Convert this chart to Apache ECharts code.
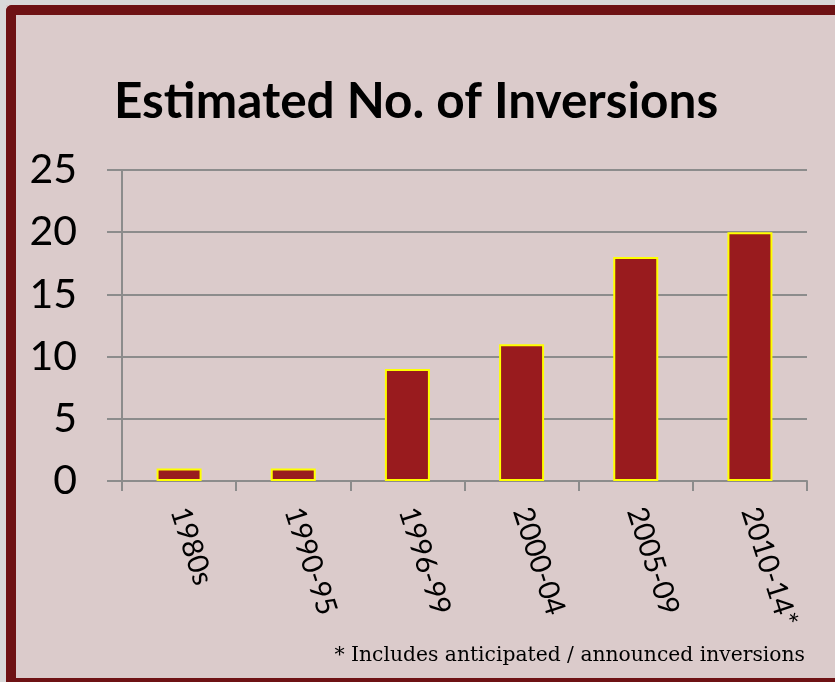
<!DOCTYPE html>
<html>
<head>
<meta charset="utf-8">
<script src="https://cdn.jsdelivr.net/npm/echarts@6/dist/echarts.min.js"></script>
<style>
html,body{margin:0;padding:0;background:#d9d9d9;}
#chart{width:835px;height:682px;}
</style>
</head>
<body>
<div id="chart"></div>
<script>
const categories = ['1980s', '1990-95', '1996-99', '2000-04', '2005-09', '2010-14*'];
const inversions = [1, 1, 9, 11, 18, 20];
const yTicks = [0, 5, 10, 15, 20, 25];
const titleText = 'Estimated No. of Inversions';
const footnote = '* Includes anticipated / announced inversions';

const chart = echarts.init(document.getElementById('chart'));
chart.setOption({
  backgroundColor: '#dbcbcb',
  animation: false,
  title: {
    text: titleText,
    left: 109,
    top: 72,
    textStyle: { fontFamily: 'Lato', fontWeight: 'bold', fontSize: 49.5, color: '#000' }
  },
  graphic: [
    { type: 'rect', shape: { x: 0, y: 0, width: 835, height: 5 }, style: { fill: '#d9d9d9' }, silent: true },
    { type: 'rect', shape: { x: 0, y: 0, width: 6, height: 682 }, style: { fill: '#d9d9d9' }, silent: true },
    { type: 'rect', shape: { x: 6, y: 5, width: 829, height: 10, r: [6, 0, 0, 0] }, style: { fill: '#6e1214' }, silent: true },
    { type: 'rect', shape: { x: 6, y: 5, width: 10, height: 677, r: [6, 0, 0, 0] }, style: { fill: '#6e1214' }, silent: true },
    { type: 'rect', shape: { x: 6, y: 678, width: 829, height: 4 }, style: { fill: '#6e1214' }, silent: true },
    { type: 'text', right: 30, top: 646,
      style: { text: footnote, font: '20.3px "DejaVu Serif"', fill: '#000' } }
  ],
  grid: { left: 122, right: 28, top: 170, bottom: 201, containLabel: false },
  xAxis: {
    type: 'category',
    data: categories,
    boundaryGap: true,
    axisLine: { show: true, lineStyle: { color: '#8c8c8c', width: 2 } },
    axisTick: { show: true, inside: false, length: 10, alignWithLabel: false, lineStyle: { color: '#8c8c8c', width: 2 } },
    axisLabel: { rotate: -72, margin: 27, fontFamily: 'Lato', fontSize: 29, color: '#000', interval: 0 },
    splitLine: { show: false }
  },
  yAxis: {
    type: 'value',
    min: yTicks[0],
    max: yTicks[yTicks.length - 1],
    interval: yTicks[1] - yTicks[0],
    axisLine: { show: true, lineStyle: { color: '#8c8c8c', width: 2 } },
    axisTick: { show: true, inside: false, length: 15, lineStyle: { color: '#8c8c8c', width: 2 } },
    axisLabel: { margin: 45, fontFamily: 'Lato', fontSize: 41, color: '#000' },
    splitLine: { show: true, lineStyle: { color: '#8c8c8c', width: 2 } }
  },
  series: [{
    type: 'bar',
    data: inversions,
    barWidth: 45,
    itemStyle: { color: '#991b1e', borderColor: '#ffff00', borderWidth: 2 }
  }]
});
</script>
</body>
</html>
